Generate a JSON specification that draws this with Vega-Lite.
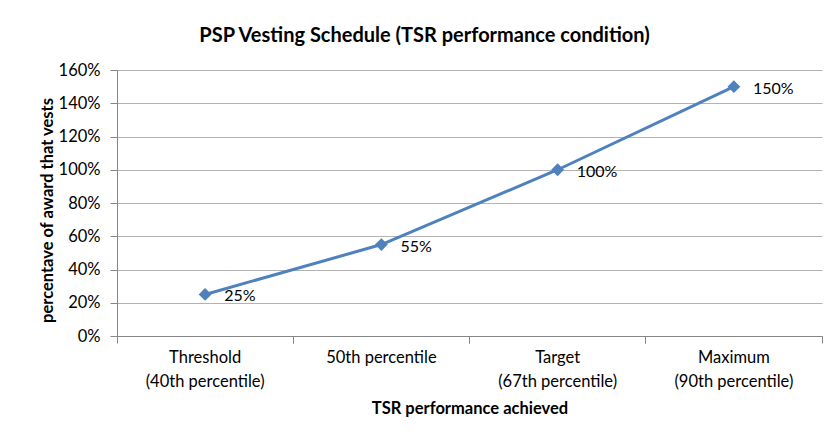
{
  "$schema": "https://vega.github.io/schema/vega-lite/v6.json",
  "width": 705,
  "height": 266,
  "autosize": {"type": "none"},
  "padding": {"left": 117, "top": 70, "right": 9, "bottom": 100},
  "background": "white",
  "title": {
    "text": "PSP Vesting Schedule (TSR performance condition)",
    "font": "Lato",
    "fontSize": 20,
    "fontWeight": "bold",
    "color": "#000000",
    "anchor": "middle",
    "dx": -45,
    "offset": 16
  },
  "config": {
    "view": {"stroke": null},
    "font": "Lato",
    "axis": {
      "labelFont": "Lato",
      "labelFontSize": 16.5,
      "labelColor": "#000000",
      "titleFont": "Lato",
      "titleFontSize": 16.5,
      "titleFontWeight": "bold",
      "titleColor": "#000000",
      "domainColor": "#868686",
      "tickColor": "#868686",
      "gridColor": "#B3B3B3"
    }
  },
  "data": {
    "values": [
      {"stage": "Threshold\n(40th percentile)", "pct": 0.25, "label": "25%"},
      {"stage": "50th percentile", "pct": 0.55, "label": "55%"},
      {"stage": "Target\n(67th percentile)", "pct": 1.0, "label": "100%"},
      {"stage": "Maximum\n(90th percentile)", "pct": 1.5, "label": "150%"}
    ]
  },
  "encoding": {
    "y": {
      "field": "pct", "type": "quantitative",
      "scale": {"domain": [0, 1.6], "nice": false},
      "axis": {
        "title": "percentave of award that vests",
        "values": [0, 0.2, 0.4, 0.6, 0.8, 1.0, 1.2, 1.4, 1.6],
        "format": ".0%",
        "grid": true,
        "labelOverlap": false,
        "tickSize": 7,
        "labelPadding": 10,
        "titleX": -70,
        "titleY": 140,
        "titleBaseline": "middle"
      }
    }
  },
  "resolve": {"axis": {"x": "independent"}},
  "layer": [
    {
      "mark": {"type": "line", "color": "#4F81BD", "strokeWidth": 3},
      "encoding": {
        "x": {
          "field": "stage", "type": "nominal", "sort": null,
          "scale": {"type": "band", "paddingInner": 0, "paddingOuter": 0},
          "axis": {
            "orient": "bottom",
            "title": "TSR performance achieved",
            "labelAngle": 0,
            "ticks": false,
            "domain": true,
            "labelPadding": 13,
            "labelBaseline": "top",
            "labelLineHeight": 24,
            "labelExpr": "split(datum.label, '\\n')",
            "titlePadding": 11
          }
        }
      }
    },
    {
      "mark": {"type": "point", "shape": "diamond", "filled": true, "color": "#4F81BD", "size": 165, "opacity": 1},
      "encoding": {
        "x": {
          "field": "stage", "type": "nominal", "sort": null,
          "axis": {"orient": "bottom", "bandPosition": 0, "labels": false, "ticks": true, "tickSize": 7, "domain": false, "title": null, "grid": false}
        }
      }
    },
    {
      "mark": {"type": "text", "align": "left", "baseline": "middle", "dx": 19, "dy": 2, "fontSize": 16, "font": "Lato", "color": "#000000"},
      "encoding": {
        "x": {
          "field": "stage", "type": "nominal", "sort": null,
          "axis": {"orient": "bottom", "bandPosition": 1, "labels": false, "ticks": true, "tickSize": 7, "domain": false, "title": null, "grid": false}
        },
        "text": {"field": "label"}
      }
    }
  ]
}
